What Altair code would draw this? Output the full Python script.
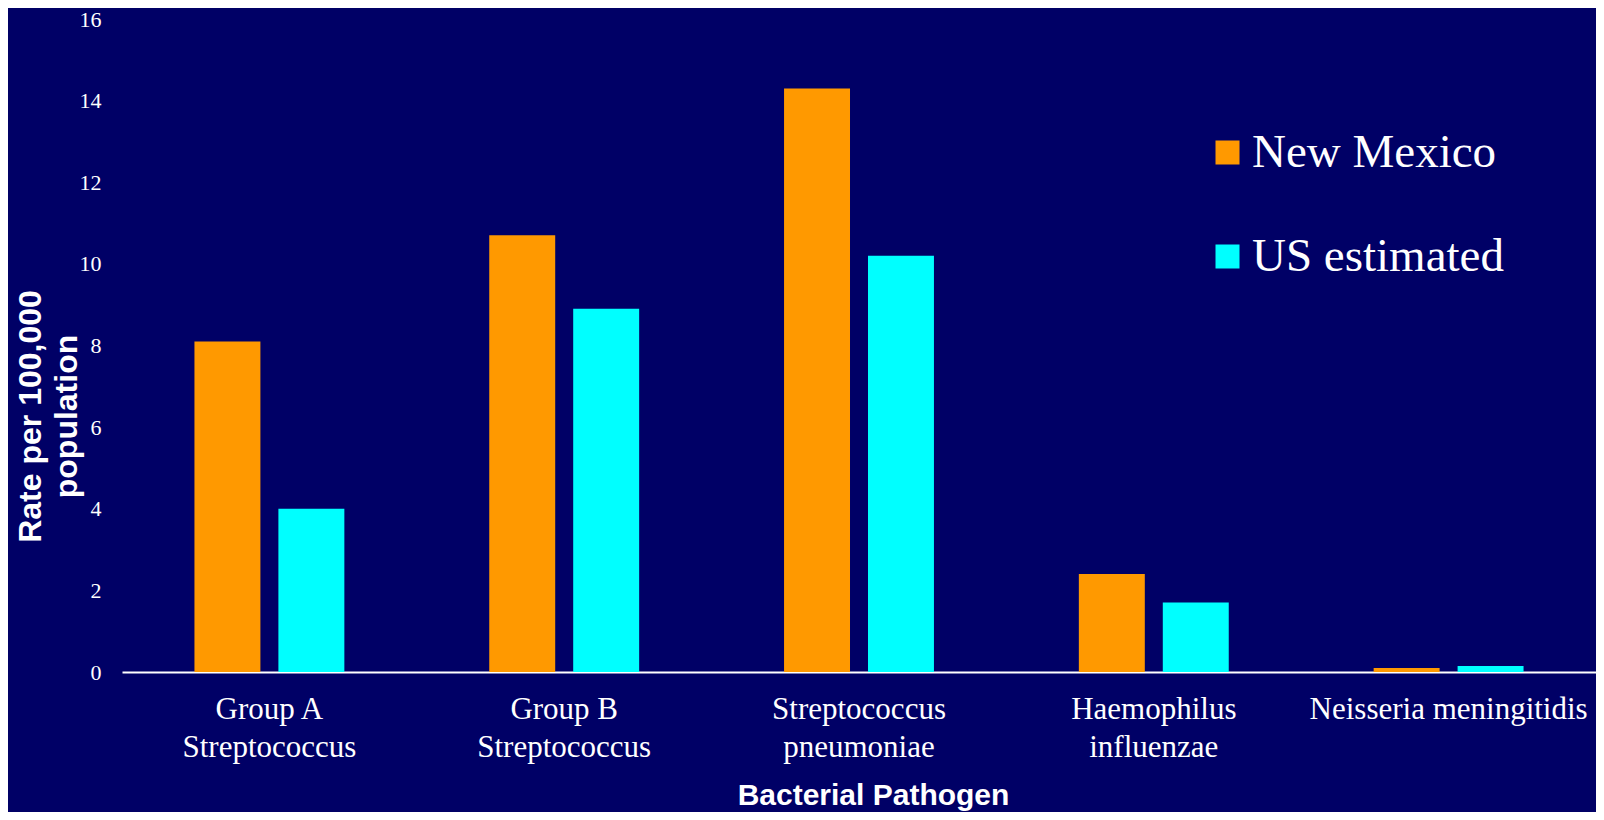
import altair as alt
import pandas as pd

# ---- data ----
categories = [
    "Group A|Streptococcus",
    "Group B|Streptococcus",
    "Streptococcus|pneumoniae",
    "Haemophilus|influenzae",
    "Neisseria meningitidis",
]
series_names = ["New Mexico", "US estimated"]
new_mexico = [8.1, 10.7, 14.3, 2.4, 0.1]
us_estimated = [4.0, 8.9, 10.2, 1.7, 0.15]
series_colors = ["#FF9900", "#00FFFF"]
y_ticks = [0, 2, 4, 6, 8, 10, 12, 14, 16]

rows = []
for c, a, b in zip(categories, new_mexico, us_estimated):
    rows.append({"pathogen": c, "series": series_names[0], "rate": a})
    rows.append({"pathogen": c, "series": series_names[1], "rate": b})
df = pd.DataFrame(rows)

BG = "#000066"

chart = (
    alt.Chart(df)
    .mark_bar()
    .encode(
        x=alt.X(
            "pathogen:N",
            sort=categories,
            scale=alt.Scale(paddingInner=0, paddingOuter=0),
            axis=alt.Axis(
                title="Bacterial Pathogen",
                labelExpr="split(datum.label, '|')",
                labelAngle=0,
                labelFont="Liberation Serif",
                labelFontSize=31,
                labelLineHeight=38,
                labelColor="white",
                labelBaseline="alphabetic",
                labelPadding=46,
                labelLimit=0,
                labelOverlap=False,
                ticks=False,
                tickSize=0,
                domain=True,
                domainColor="white",
                domainWidth=2,
                grid=False,
                titleFont="Liberation Sans",
                titleFontWeight="bold",
                titleFontSize=30,
                titleColor="white",
                titleX=751,
                titleY=132,
                titleAlign="center",
                titleBaseline="alphabetic",
            ),
        ),
        xOffset=alt.XOffset(
            "series:N",
            sort=series_names,
            scale=alt.Scale(paddingInner=0.2143, paddingOuter=0.863),
        ),
        y=alt.Y(
            "rate:Q",
            scale=alt.Scale(domain=[0, 16], nice=False),
            axis=alt.Axis(
                values=y_ticks,
                title=["Rate per 100,000", "population"],
                labelFont="Liberation Serif",
                labelFontSize=22,
                labelColor="white",
                labelPadding=21,
                ticks=False,
                tickSize=0,
                domain=False,
                grid=False,
                titleFont="Liberation Sans",
                titleFontWeight="bold",
                titleFontSize=32,
                titleLineHeight=36,
                titleColor="white",
                titleAngle=270,
                titleX=-82,
                titleY=397,
                titleAlign="center",
                titleBaseline="alphabetic",
            ),
        ),
        color=alt.Color(
            "series:N",
            sort=series_names,
            scale=alt.Scale(domain=series_names, range=series_colors),
            legend=alt.Legend(
                title=None,
                orient="none",
                legendX=1082,
                legendY=110,
                padding=0,
                symbolType="square",
                symbolSize=576,
                symbolStrokeWidth=0,
                symbolOpacity=1,
                labelFont="Liberation Serif",
                labelFontSize=47,
                labelColor="white",
                labelOffset=1,
                labelLimit=0,
                rowPadding=56,
            ),
        ),
    )
    .properties(
        width=1474,
        height=653,
        autosize=alt.AutoSizeParams(type="none"),
        padding={"left": 114, "top": 11, "right": 0, "bottom": 140},
        background=BG,
    )
    .configure_view(stroke=None)
)

chart.save("out.html", embed_options={"renderer": "svg", "actions": False})
